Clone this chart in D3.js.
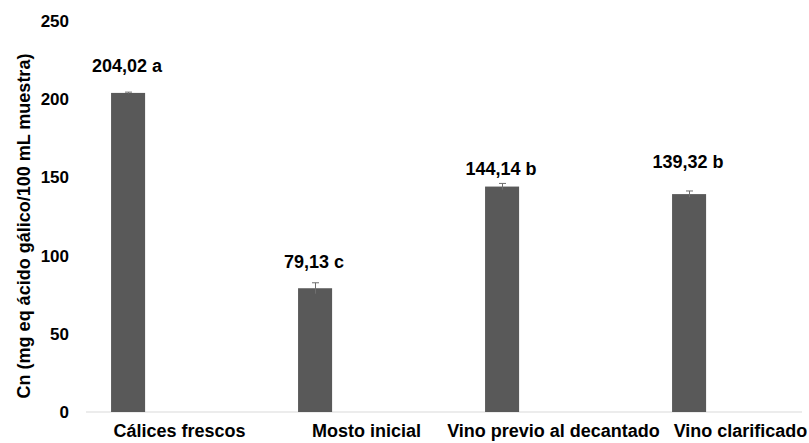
<!DOCTYPE html>
<html>
<head>
<meta charset="utf-8">
<script src="https://cdn.jsdelivr.net/npm/d3@7"></script>
<style>
  html, body { margin: 0; padding: 0; background: #fff; }
  svg { display: block; font-family: "Liberation Sans", Arial, sans-serif; }
</style>
</head>
<body>
<svg id="chart" width="809" height="443"></svg>
<script>
// ---- data ----
const categories = ["Cálices frescos", "Mosto inicial", "Vino previo al decantado", "Vino clarificado"];
const values = [204.02, 79.13, 144.14, 139.32];
const errors = [0.5, 3.5, 2, 2];
const letters = ["a", "c", "b", "b"];
const yTicks = [0, 50, 100, 150, 200, 250];
const yTitle = "Cn (mg eq ácido gálico/100 mL muestra)";

// ---- layout ----
const svg = d3.select("#chart");
const x = d3.scaleBand().domain(categories).range([86, 834]).paddingInner(0).paddingOuter(0);
const y = d3.scaleLinear().domain([0, 250]).range([412, 21]);
const barOffset = 0.134, barFrac = 0.182;
const labelDy = [20, 15, 8, 23];
const fmt = v => d3.format(".2f")(v).replace(".", ",");

// axis baseline
svg.append("line")
  .attr("x1", 86).attr("x2", 802)
  .attr("y1", y(0)).attr("y2", y(0))
  .attr("stroke", "#d9d9d9").attr("stroke-width", 1);

// y tick labels
const yAxis = d3.axisLeft(y).tickValues(yTicks).tickSize(0).tickPadding(0).tickFormat(d3.format("d"));
const gy = svg.append("g").attr("transform", "translate(69,0)").call(yAxis);
gy.select(".domain").remove();
gy.selectAll("text")
  .attr("font-size", 17).attr("font-weight", "bold").attr("fill", "#000")
  .attr("font-family", "Liberation Sans, Arial, sans-serif");

// x category labels
const xAxis = d3.axisBottom(x).tickSize(0).tickPadding(0);
const gx = svg.append("g").attr("transform", "translate(0,424)").call(xAxis);
gx.select(".domain").remove();
gx.selectAll("text")
  .attr("font-size", 18).attr("font-weight", "bold").attr("fill", "#000")
  .attr("font-family", "Liberation Sans, Arial, sans-serif");

// bars
const bw = x.bandwidth();
svg.append("g").selectAll("rect")
  .data(categories)
  .join("rect")
  .attr("x", d => x(d) + bw * barOffset)
  .attr("width", bw * barFrac)
  .attr("y", (d, i) => y(values[i]))
  .attr("height", (d, i) => y(0) - y(values[i]))
  .attr("fill", "#595959");

// error bars
const eg = svg.append("g").attr("stroke", "#6f6f6f").attr("stroke-width", 1);
categories.forEach((c, i) => {
  const cx = Math.round(x(c) + bw * (barOffset + barFrac / 2)) + 0.5;
  eg.append("line").attr("x1", cx).attr("x2", cx)
    .attr("y1", y(values[i] - errors[i])).attr("y2", y(values[i] + errors[i]));
  eg.append("line").attr("x1", cx - 3.5).attr("x2", cx + 3.5)
    .attr("y1", y(values[i] + errors[i])).attr("y2", y(values[i] + errors[i]));
});

// value labels
svg.append("g").selectAll("text")
  .data(categories)
  .join("text")
  .attr("x", d => x(d) + bw * (barOffset + barFrac / 2) - 1)
  .attr("y", (d, i) => y(values[i] + errors[i]) - labelDy[i])
  .attr("text-anchor", "middle")
  .attr("font-size", 18).attr("font-weight", "bold").attr("fill", "#000")
  .text((d, i) => fmt(values[i]) + " " + letters[i]);

// y title
svg.append("text")
  .attr("transform", "translate(24,226) rotate(-90)")
  .attr("text-anchor", "middle")
  .attr("dy", "0.35em")
  .attr("font-size", 18).attr("font-weight", "bold").attr("fill", "#000")
  .text(yTitle);
</script>
</body>
</html>
